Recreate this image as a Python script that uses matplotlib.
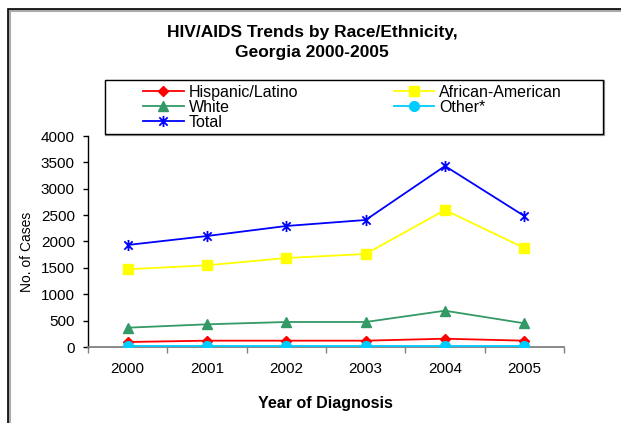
import matplotlib
matplotlib.use("Agg")
import matplotlib.pyplot as plt
from matplotlib.patches import Rectangle
from matplotlib.path import Path
import numpy as np

years = ["2000", "2001", "2002", "2003", "2004", "2005"]
hispanic = [95, 120, 120, 120, 157, 120]
african_american = [1473, 1549, 1687, 1763, 2597, 1877]
white = [366, 430, 474, 474, 688, 449]
other = [25, 25, 25, 25, 25, 25]
total = [1934, 2104, 2294, 2408, 3431, 2483]

plt.rcParams['font.family'] = ['Liberation Sans', 'DejaVu Sans']

W, H = 621, 423
fig = plt.figure(figsize=(W / 100, H / 100), dpi=100)
fig.patch.set_facecolor('white')

# outer frame (extends past right/bottom edges)
fig.patches.append(Rectangle((9 / W, -0.1), 1.2, 1 - 10 / H + 0.1, transform=fig.transFigure,
                             fill=False, edgecolor='#aaaaaa', linewidth=2.2, zorder=0))
fig.patches.append(Rectangle((8 / W, -0.1), 1.2, 1 - 9.5 / H + 0.1, transform=fig.transFigure,
                             fill=False, edgecolor='black', linewidth=1.2, zorder=1))

ax = fig.add_axes([88 / W, (H - 347) / H, 476 / W, 211 / H])
x = np.arange(len(years))

star = Path([(0, -1), (0, 1), (-0.75, -0.75), (0.75, 0.75), (-0.75, 0.75), (0.75, -0.75)],
            [Path.MOVETO, Path.LINETO, Path.MOVETO, Path.LINETO, Path.MOVETO, Path.LINETO])

lw = 1.3
ax.plot(x, hispanic, color='#FF0000', marker='D', markersize=5.5, lw=lw, label='Hispanic/Latino', zorder=4)
ax.plot(x, white, color='#339966', marker='^', markersize=7.5, lw=lw, label='White', zorder=3)
ax.plot(x, total, color='#0000FF', marker=star, markersize=8, markeredgewidth=1.3, lw=lw, label='Total', zorder=3)
ax.plot(x, african_american, color='#FFFF00', marker='s', markersize=7.5, lw=lw, label='African-American', zorder=3)
ax.plot(x, other, color='#00CCFF', marker='o', markersize=7, lw=lw, label='Other*', zorder=5)

ax.set_xlim(-0.5, 5.5)
ax.set_ylim(0, 4000)
ax.set_yticks(np.arange(0, 4001, 500))
ax.set_xticks(np.arange(-0.5, 5.6, 1.0))
ax.set_xticklabels([])
ax.set_xticks(x, minor=True)
ax.set_xticklabels(years, minor=True)
ax.tick_params(axis='x', which='major', direction='out', length=4, width=1, color='#808080')
ax.tick_params(axis='x', which='minor', length=0, pad=11, labelsize=11)
ax.tick_params(axis='y', direction='out', length=3.5, width=1, color='black', pad=6, labelsize=11)
for s in ['top', 'right']:
    ax.spines[s].set_visible(False)
ax.spines['bottom'].set_color('#808080')
ax.spines['bottom'].set_linewidth(1.3)
ax.spines['left'].set_color('black')
ax.spines['left'].set_linewidth(1.0)
ax.patch.set_alpha(0)

fig.text(312 / W, 1 - 32 / H, "HIV/AIDS Trends by Race/Ethnicity,", ha='center', va='center',
         fontsize=12.5, fontweight='bold')
fig.text(312 / W, 1 - 52.5 / H, "Georgia 2000-2005", ha='center', va='center',
         fontsize=12.5, fontweight='bold')
fig.text(325 / W, 1 - 403 / H, "Year of Diagnosis", ha='center', va='center',
         fontsize=11.5, fontweight='bold')
fig.text(27 / W, 1 - 252 / H, "No. of Cases", ha='center', va='center', rotation=90,
         fontsize=10, family=['Liberation Sans Narrow', 'Liberation Sans', 'DejaVu Sans'])

# legend frame
fig.patches.append(Rectangle((106 / W, 1 - 135 / H), 498 / W, 54 / H, transform=fig.transFigure,
                             fill=False, edgecolor='#999999', linewidth=1.6, zorder=2))
fig.patches.append(Rectangle((105 / W, 1 - 134 / H), 498 / W, 54 / H, transform=fig.transFigure,
                             facecolor='white', edgecolor='black', linewidth=1.0, zorder=2))
handles, labels = ax.get_legend_handles_labels()
leg = fig.legend(handles, labels, ncol=2, loc='upper left',
                 bbox_to_anchor=(143 / W, 1 - 131 / H, (562 - 143) / W, 46 / H),
                 mode='expand', frameon=False, borderpad=0, borderaxespad=0,
                 handlelength=2.55, handletextpad=0.3, labelspacing=0.0,
                 fontsize=11.5)
leg.set_zorder(3)

fig.savefig("out.png", dpi=100)
